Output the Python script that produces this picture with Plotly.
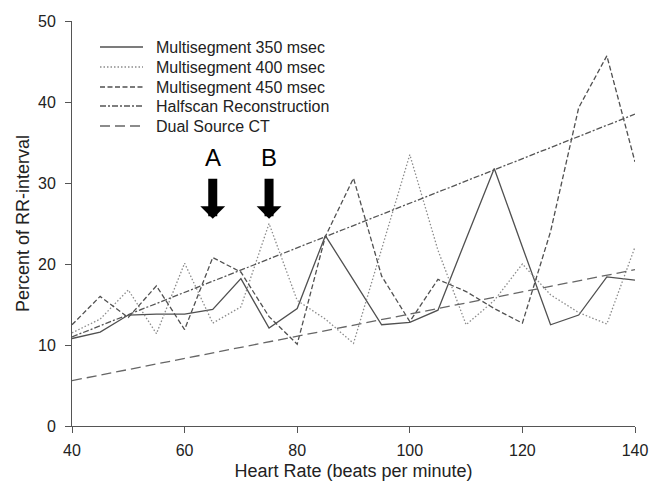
import plotly.graph_objects as go

# Heart rate (bpm) sample points
heart_rate = [40, 45, 50, 55, 60, 65, 70, 75, 80, 85, 90, 95, 100, 105, 110, 115, 120, 125, 130, 135, 140]

# Percent of RR-interval for each reconstruction
ms350 = [10.8, 11.6, 13.7, 13.8, 13.8, 14.4, 18.2, 12.1, 14.5, 23.5, 18.0, 12.5, 12.8, 14.3, 23.1, 31.8, 22.1, 12.5, 13.7, 18.4, 18.0]
ms400 = [11.5, 13.2, 16.8, 11.4, 20.1, 12.7, 14.7, 25.0, 15.5, 13.2, 10.2, 21.7, 33.5, 21.7, 12.5, 15.5, 20.0, 16.2, 14.0, 12.6, 22.1]
ms450 = [12.5, 16.0, 13.4, 17.3, 11.9, 20.8, 19.0, 13.5, 10.1, 23.4, 30.6, 18.5, 12.9, 18.1, 16.6, 14.5, 12.7, 24.0, 39.3, 45.7, 32.6]

line_x = [40, 140]
halfscan = [11.0, 38.5]
dual_source = [5.6, 19.3]

series_names = ["Multisegment 350 msec", "Multisegment 400 msec", "Multisegment 450 msec",
                "Halfscan Reconstruction", "Dual Source CT"]
series_colors = ["#505050", "#8c8c8c", "#505050", "#555555", "#666666"]
series_dash = ["solid", "1.5px,2px", "5px,2.5px", "6px,2px,2px,2px", "10px,5px"]

# Arrow markers
arrow_labels = ["A", "B"]
arrow_x = [65, 75]
arrow_tip = 25.6
arrow_tail = 30.7
arrow_label_y = 33.1

FONT = "Liberation Sans, Arial, sans-serif"

# plot-area geometry (pixels)
W, H = 663, 485
ML, MR, MT, MB = 72, 28, 21, 59
PW, PH = W - ML - MR, H - MT - MB


def px_x(p):
    return (p - ML) / PW


def px_y(p):
    return 1 - (p - MT) / PH


fig = go.Figure()
xs = [heart_rate, heart_rate, heart_rate, line_x, line_x]
ys = [ms350, ms400, ms450, halfscan, dual_source]
for i in range(5):
    fig.add_trace(go.Scatter(x=xs[i], y=ys[i], mode="lines", name=series_names[i], showlegend=False,
                             line=dict(color=series_colors[i], width=1.3, dash=series_dash[i])))

annotations = []
shapes = []
# manual legend
legend_rows = [47, 67, 87, 106, 126]
for i, ry in enumerate(legend_rows):
    shapes.append(dict(type="line", xref="paper", yref="paper", x0=px_x(100), x1=px_x(143),
                       y0=px_y(ry), y1=px_y(ry),
                       line=dict(color=series_colors[i], width=1.3, dash=series_dash[i])))
    annotations.append(dict(x=px_x(154), y=px_y(ry), xref="paper", yref="paper", text=series_names[i],
                            xanchor="left", yanchor="middle", showarrow=False,
                            font=dict(family=FONT, size=16, color="#222222")))

for lab, xa in zip(arrow_labels, arrow_x):
    annotations.append(dict(x=xa, y=arrow_tip, ax=xa, ay=arrow_tail, xref="x", yref="y",
                            axref="x", ayref="y", text="", showarrow=True,
                            arrowhead=1, arrowwidth=9, arrowsize=0.46, arrowcolor="black"))
    annotations.append(dict(x=xa, y=arrow_label_y, xref="x", yref="y", text=lab,
                            showarrow=False, font=dict(family=FONT, size=24, color="black")))

fig.update_layout(
    width=W, height=H,
    margin=dict(l=ML, r=MR, t=MT, b=MB),
    paper_bgcolor="white", plot_bgcolor="white",
    font=dict(family=FONT, size=16, color="#222222"),
    showlegend=False,
    annotations=annotations,
    shapes=shapes,
    xaxis=dict(range=[40, 140], tickvals=[40, 60, 80, 100, 120, 140], ticks="outside",
               ticklen=6, tickcolor="#555555", showline=True, linecolor="#555555", linewidth=1,
               showgrid=False, zeroline=False, tickfont=dict(size=16, color="#222222"),
               ticklabelstandoff=4, automargin=False,
               title=dict(text="Heart Rate (beats per minute)", font=dict(size=18, color="#222222"),
                          standoff=6)),
    yaxis=dict(range=[0, 50], tickvals=[0, 10, 20, 30, 40, 50], ticks="outside",
               ticklen=6, tickcolor="#555555", showline=True, linecolor="#555555", linewidth=1,
               showgrid=False, zeroline=False, tickfont=dict(size=16, color="#222222"),
               ticklabelstandoff=6, automargin=False,
               title=dict(text="Percent of RR-interval", font=dict(size=18, color="#222222"),
                          standoff=3)),
)

fig.write_html("out.html", config={"displayModeBar": False},
               post_script="document.body.style.margin='0px';document.body.style.overflow='hidden';")
